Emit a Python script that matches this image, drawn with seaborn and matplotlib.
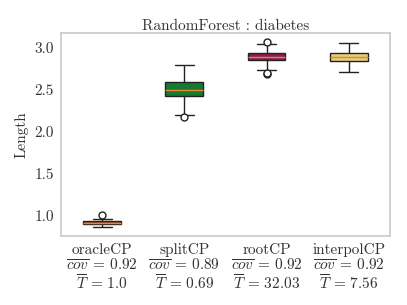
import numpy as np
import pandas as pd
import matplotlib
matplotlib.use("Agg")
import matplotlib.pyplot as plt
import seaborn as sns

# values
methods = ["oracleCP", "splitCP", "rootCP", "interpolCP"]
coverage = [0.92, 0.89, 0.92, 0.92]
times = ["1.0", "0.69", "32.03", "7.56"]
colors = ["#9a4a22", "#157a32", "#8a1e52", "#e6cf7a"]

oracle_len = [0.865, 0.893, 0.893, 0.916, 0.916, 0.932, 0.932, 0.964, 1.004]
split_len = [2.175, 2.204, 2.430, 2.430, 2.494, 2.494, 2.589, 2.589, 2.800]
root_len = [2.690, 2.700, 2.741, 2.852, 2.852, 2.852, 2.896, 2.896,
            2.936, 2.936, 2.936, 3.051, 3.070]
interpol_len = [2.712, 2.845, 2.845, 2.888, 2.936, 2.936, 3.055]

lengths = [oracle_len, split_len, root_len, interpol_len]
df = pd.DataFrame({
    "method": np.repeat(methods, [len(l) for l in lengths]),
    "length": np.concatenate(lengths),
})

sns.set_theme(style="whitegrid")
plt.rcParams["font.family"] = ["cmr10", "DejaVu Serif"]
plt.rcParams["mathtext.fontset"] = "cm"
plt.rcParams["axes.unicode_minus"] = False
plt.rcParams["axes.formatter.use_mathtext"] = True

fig = plt.figure(figsize=(4.07, 3.05), dpi=100)
ax = fig.add_axes([0.150, 0.226, 0.808, 0.666])

sns.boxplot(data=df, x="method", y="length", hue="method", order=methods,
            palette=colors, saturation=1, width=0.46, linewidth=1,
            linecolor="#222222", legend=False, ax=ax,
            medianprops={"color": "#ee8236", "linewidth": 1},
            flierprops={"marker": "o", "markerfacecolor": "white",
                        "markeredgecolor": "#222222", "markersize": 5})

labels = [f"{m}\n$\\overline{{cov}}$ = {c:.2f}\n$\\overline{{T}}$ = {t}"
          for m, c, t in zip(methods, coverage, times)]
ax.set_xticks(range(len(methods)))
ax.set_xticklabels(labels, fontsize=11, color="#333333", linespacing=1.05)
ax.set_yticks([1.0, 1.5, 2.0, 2.5, 3.0])
ax.set_yticklabels(["1.0", "1.5", "2.0", "2.5", "3.0"], fontsize=11, color="#333333")
ax.grid(False)
ax.set_xlabel("")
ax.set_ylabel("Length", fontsize=11, color="#333333")
ax.set_title("RandomForest : diabetes", fontsize=11, color="#333333", pad=2)
for s in ax.spines.values():
    s.set_color("#cccccc")
ax.tick_params(length=0, pad=5)

fig.savefig("out.png", dpi=100)
